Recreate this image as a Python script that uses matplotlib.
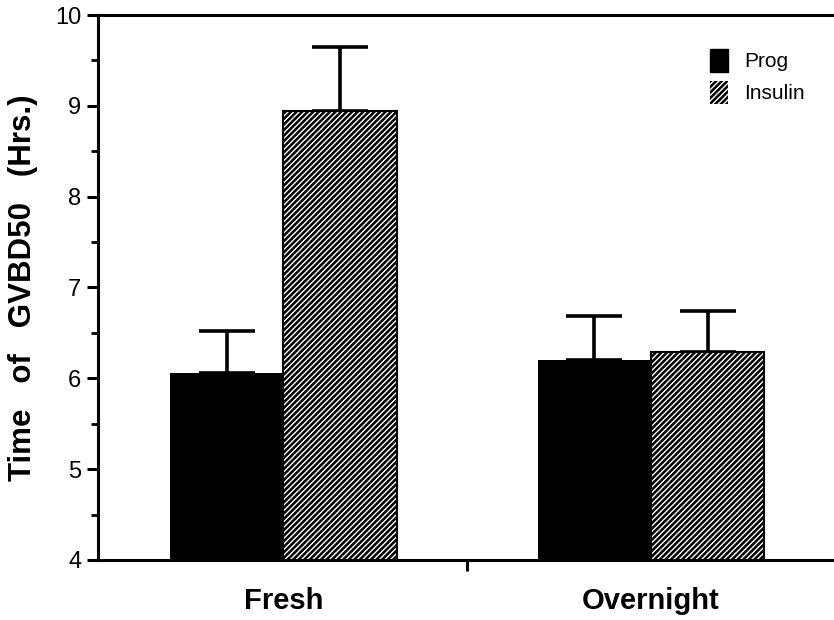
import matplotlib.pyplot as plt
from matplotlib.ticker import MultipleLocator, FixedLocator, NullFormatter
from matplotlib.patches import Patch
import numpy as np

plt.rcParams['font.family'] = ['Liberation Sans', 'DejaVu Sans']
plt.rcParams['hatch.linewidth'] = 1.0

groups = ['Fresh', 'Overnight']
prog = [6.06, 6.20]
insulin = [8.94, 6.29]
prog_err = [0.46, 0.49]
insulin_err = [0.71, 0.45]

x = np.arange(len(groups))
w = 0.308

fig = plt.figure(figsize=(8.34, 6.2), dpi=100)
ax = fig.add_axes([0.1175, 0.0968, 0.8835, 0.879])

# Prog: solid black
ax.bar(x - w / 2, prog, w, color='black', edgecolor='black', linewidth=0, zorder=2)
# Insulin: black with fine white diagonal hatch, then a black outline on top
ax.bar(x + w / 2, insulin, w, color='black', edgecolor='white', hatch='//////', linewidth=0, zorder=2)
ax.bar(x + w / 2, insulin, w, fill=False, edgecolor='black', linewidth=1.5, zorder=3)

ax.errorbar(x - w / 2, prog, yerr=[[0, 0], prog_err], fmt='none', ecolor='black',
            elinewidth=2.6, capsize=20, capthick=2.6, zorder=1)
ax.errorbar(x + w / 2, insulin, yerr=[[0, 0], insulin_err], fmt='none', ecolor='black',
            elinewidth=2.6, capsize=20, capthick=2.6, zorder=1)

ax.set_ylim(4, 10)
ax.set_xlim(-0.504, 1.5)

ax.yaxis.set_major_locator(MultipleLocator(1))
ax.yaxis.set_minor_locator(MultipleLocator(0.5))
ax.tick_params(axis='y', which='major', direction='out', length=8, width=2.2, labelsize=17, pad=4)
ax.tick_params(axis='y', which='minor', direction='out', length=5, width=2)

ax.xaxis.set_major_locator(FixedLocator([0.5]))
ax.xaxis.set_major_formatter(NullFormatter())
ax.tick_params(axis='x', which='major', direction='out', length=8, width=2.2)

for name, sp in ax.spines.items():
    sp.set_linewidth(2.2)
ax.spines['right'].set_visible(False)

for xi, g in zip(x, groups):
    ax.text(xi, -0.075, g, transform=ax.get_xaxis_transform(), ha='center', va='center',
            fontsize=21, fontweight='bold')

ax.set_ylabel('Time   of   GVBD50   (Hrs.)', fontsize=22.5, fontweight='bold', labelpad=12)

handles = [Patch(facecolor='black', edgecolor='black'),
           Patch(facecolor='black', edgecolor='white', hatch='//////', linewidth=0)]
ax.legend(handles, ['Prog', 'Insulin'], loc='upper right', frameon=False, fontsize=15,
          handlelength=0.85, handleheight=1.3, handletextpad=0.8, labelspacing=0.45,
          bbox_to_anchor=(0.985, 0.972))

fig.savefig('out.png', dpi=100)
